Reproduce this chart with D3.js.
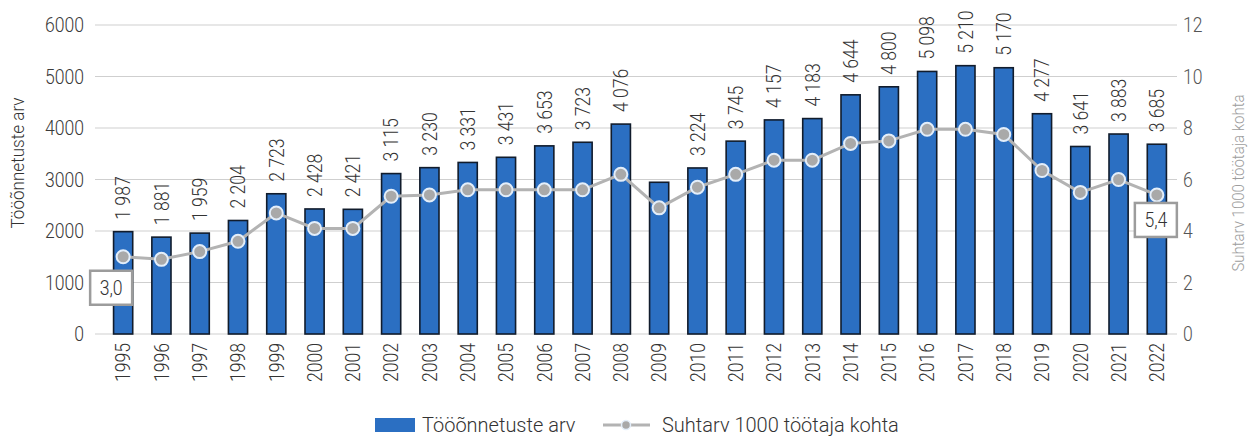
<!DOCTYPE html>
<html>
<head>
<meta charset="utf-8">
<script src="https://cdn.jsdelivr.net/npm/d3@7"></script>
<style>
    body { margin: 0; background: #fff; }
    text { font-family: Roboto, "Noto Sans", sans-serif; }
</style>
</head>
<body>
<svg id="chart" width="1254" height="436"></svg>
<script>
(function () {
    "use strict";

    // chart data
    const years = [1995, 1996, 1997, 1998, 1999, 2000, 2001, 2002, 2003, 2004,
        2005, 2006, 2007, 2008, 2009, 2010, 2011, 2012, 2013, 2014,
        2015, 2016, 2017, 2018, 2019, 2020, 2021, 2022];
    const accidents = [1987, 1881, 1959, 2204, 2723, 2428, 2421, 3115, 3230, 3331,
        3431, 3653, 3723, 4076, 2946, 3224, 3745, 4157, 4183, 4644,
        4800, 5098, 5210, 5170, 4277, 3641, 3883, 3685];
    const ratePer1000 = [3.0, 2.9, 3.2, 3.6, 4.7, 4.1, 4.1, 5.35, 5.4, 5.6,
        5.6, 5.6, 5.6, 6.2, 4.9, 5.7, 6.2, 6.75, 6.75, 7.4,
        7.5, 7.95, 7.95, 7.75, 6.35, 5.5, 6.0, 5.4];
    const unlabeledYears = [2009];
    const leftTicks = [0, 1000, 2000, 3000, 4000, 5000, 6000];
    const rightTicks = [0, 2, 4, 6, 8, 10, 12];
    const calloutYears = [1995, 2022];
    const barName = "Tööõnnetuste arv";
    const lineName = "Suhtarv 1000 töötaja kohta";

    const BAR_FILL = "#2b6fc2";
    const BAR_EDGE = "#111c2c";
    const LINE_COLOR = "#b3b3b3";
    const GRID_COLOR = "#cfcfcf";
    const SQUEEZE = 0.88;

    const svg = d3.select("#chart");

    let x = d3.scaleBand().domain(years).range([104, 1176])
        .paddingInner(0.5).paddingOuter(0.25);
    let yLeft = d3.scaleLinear().domain([0, 6000]).range([334, 25]);
    let yRight = d3.scaleLinear().domain([0, 12]).range([334, 25]);

    let fmt = (v) => d3.format(",")(v).replace(/,/g, "\u00a0");
    let fmtComma = (v) => d3.format(".1f")(v).replace(".", ",");

    // narrow text helper, the original uses a condensed face
    let place = (sel, px, py, rot, k) => sel.attr("transform",
        `translate(${px},${py})` + (rot ? ` rotate(${rot})` : "") +
        ` scale(${k === undefined ? SQUEEZE : k},1)`);

    // gridlines
    svg.append("g").selectAll("line")
        .data(leftTicks)
        .enter().append("line")
        .attr("x1", 95).attr("x2", 1177)
        .attr("y1", d => yLeft(d)).attr("y2", d => yLeft(d))
        .attr("stroke", GRID_COLOR).attr("stroke-width", 1.2);

    // left axis labels
    svg.append("g").selectAll("text")
        .data(leftTicks)
        .enter().append("text")
        .each(function (d) { place(d3.select(this), 84, yLeft(d), 0); })
        .attr("dy", "0.35em")
        .attr("text-anchor", "end")
        .attr("font-size", 20).attr("font-weight", 300)
        .attr("fill", "#3a3a3a")
        .text(d => d);

    // right axis labels
    svg.append("g").selectAll("text")
        .data(rightTicks)
        .enter().append("text")
        .each(function (d) { place(d3.select(this), 1183, yRight(d), 0); })
        .attr("dy", "0.35em")
        .attr("font-size", 20).attr("font-weight", 300)
        .attr("fill", "#555")
        .text(d => d);

    // axis titles
    place(svg.append("text"), 24, 163, -90, 0.95)
        .attr("text-anchor", "middle")
        .attr("font-size", 18).attr("font-weight", 300)
        .attr("fill", "#333")
        .text(barName);

    place(svg.append("text"), 1244, 183, -90)
        .attr("text-anchor", "middle")
        .attr("font-size", 17).attr("font-weight", 300)
        .attr("fill", "#9d9d9d")
        .text(lineName);

    // bars
    svg.append("g").selectAll("rect")
        .data(years)
        .enter().append("rect")
        .attr("x", d => x(d))
        .attr("width", x.bandwidth())
        .attr("y", (d, i) => yLeft(accidents[i]))
        .attr("height", (d, i) => yLeft(0) - yLeft(accidents[i]))
        .attr("fill", BAR_FILL)
        .attr("stroke", BAR_EDGE).attr("stroke-width", 1.6);

    // bar value labels
    svg.append("g").selectAll("text")
        .data(years.filter(y => unlabeledYears.indexOf(y) < 0))
        .enter().append("text")
        .each(function (d) {
            const i = years.indexOf(d);
            place(d3.select(this), x(d) + x.bandwidth() / 2, yLeft(accidents[i]) - 12, -90);
        })
        .attr("dy", "0.36em")
        .attr("font-size", 20).attr("font-weight", 300)
        .attr("fill", "#333")
        .text(d => fmt(accidents[years.indexOf(d)]));

    // year labels
    svg.append("g").selectAll("text")
        .data(years)
        .enter().append("text")
        .each(function (d) {
            place(d3.select(this), x(d) + x.bandwidth() / 2, 343, -90);
        })
        .attr("dy", "0.36em")
        .attr("text-anchor", "end")
        .attr("font-size", 20).attr("font-weight", 300)
        .attr("fill", "#333")
        .text(d => d);

    // rate line
    let line = d3.line()
        .x((d, i) => x(years[i]) + x.bandwidth() / 2)
        .y(d => yRight(d));

    svg.append("path")
        .datum(ratePer1000)
        .attr("d", line)
        .attr("fill", "none")
        .attr("stroke", LINE_COLOR).attr("stroke-width", 3);

    svg.append("g").selectAll("circle")
        .data(ratePer1000)
        .enter().append("circle")
        .attr("cx", (d, i) => x(years[i]) + x.bandwidth() / 2)
        .attr("cy", d => yRight(d))
        .attr("r", 6.5)
        .attr("fill", "#a9a9a9")
        .attr("stroke", "#e3eefa").attr("stroke-width", 2);

    // callout boxes for first and last rate
    const callouts = svg.append("g").selectAll("g")
        .data(calloutYears)
        .enter().append("g")
        .attr("transform", (d, i) => {
            const k = years.indexOf(d);
            const cx = x(d) + x.bandwidth() / 2 + (i === 0 ? -12 : -1);
            const cy = yRight(ratePer1000[k]) + (i === 0 ? 31 : 25);
            return `translate(${cx},${cy})`;
        });

    callouts.append("rect")
        .attr("x", -21).attr("y", -17)
        .attr("width", 42).attr("height", 34)
        .attr("fill", "#fff")
        .attr("stroke", "#9c9c9c").attr("stroke-width", 2.5);

    callouts.append("text")
        .attr("transform", `scale(${SQUEEZE},1)`)
        .attr("text-anchor", "middle")
        .attr("dy", "0.35em")
        .attr("font-size", 20).attr("font-weight", 300)
        .attr("fill", "#333")
        .text(d => fmtComma(ratePer1000[years.indexOf(d)]));

    // legend
    const legend = svg.append("g");
    legend.append("rect")
        .attr("x", 375).attr("y", 418)
        .attr("width", 40).attr("height", 14)
        .attr("fill", BAR_FILL);
    place(legend.append("text"), 422, 425, 0, 1)
        .attr("dy", "0.35em")
        .attr("font-size", 20).attr("font-weight", 300)
        .attr("fill", "#333")
        .text(barName);

    legend.append("line")
        .attr("x1", 603).attr("x2", 650)
        .attr("y1", 425).attr("y2", 425)
        .attr("stroke", LINE_COLOR).attr("stroke-width", 3);
    legend.append("circle")
        .attr("cx", 626).attr("cy", 425).attr("r", 4.5)
        .attr("fill", "#a9a9a9")
        .attr("stroke", "#e3eefa").attr("stroke-width", 1.5);
    place(legend.append("text"), 662, 425, 0, 1)
        .attr("dy", "0.35em")
        .attr("font-size", 20).attr("font-weight", 300)
        .attr("fill", "#333")
        .text(lineName);
})();
</script>
</body>
</html>
